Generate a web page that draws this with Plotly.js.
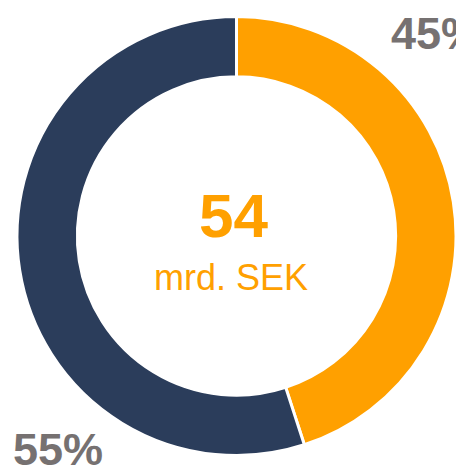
<!DOCTYPE html>
<html>
<head>
<meta charset="utf-8">
<script src="https://cdn.plot.ly/plotly-3.0.1.min.js"></script>
<style>html,body{margin:0;padding:0;background:#fff;}#chart{width:456px;height:472px;}</style>
</head>
<body>
<div id="chart"></div>
<script>
var categories = ["Orange", "Navy"];
var shares = [45, 55];
var shareLabels = ["45%", "55%"];
var centerValue = "54";
var centerUnit = "mrd. SEK";
var colors = ["#FFA000", "#2B3D5B"];

var trace = {
  type: "pie",
  labels: categories,
  values: shares,
  hole: 0.725,
  sort: false,
  direction: "clockwise",
  rotation: 0,
  textinfo: "none",
  hoverinfo: "none",
  marker: {colors: colors, line: {color: "#ffffff", width: 3}},
  domain: {x: [17/456, 1], y: [16/472, 456/472]},
  showlegend: false
};

var layout = {
  width: 456, height: 472,
  margin: {l: 0, r: 0, t: 0, b: 0},
  paper_bgcolor: "#ffffff",
  font: {family: "Liberation Sans, Arial, sans-serif"},
  annotations: [
    {text: "<b>" + centerValue + "</b>", x: 233/456, y: 1 - 215/472, xref: "paper", yref: "paper",
     xanchor: "center", yanchor: "middle", showarrow: false,
     font: {size: 62, color: colors[0], family: "Liberation Sans, Arial, sans-serif"}},
    {text: centerUnit, x: 231/456, y: 1 - 277/472, xref: "paper", yref: "paper",
     xanchor: "center", yanchor: "middle", showarrow: false,
     font: {size: 36, color: colors[0], family: "Liberation Sans, Arial, sans-serif"}},
    {text: "<b>" + shareLabels[0] + "</b>", x: 389/456, y: 1 - 33/472, xref: "paper", yref: "paper",
     xanchor: "left", yanchor: "middle", showarrow: false,
     font: {size: 45, color: "#767171", family: "Liberation Sans, Arial, sans-serif"}},
    {text: "<b>" + shareLabels[1] + "</b>", x: 11/456, y: 1 - 449/472, xref: "paper", yref: "paper",
     xanchor: "left", yanchor: "middle", showarrow: false,
     font: {size: 45, color: "#767171", family: "Liberation Sans, Arial, sans-serif"}}
  ]
};

Plotly.newPlot("chart", [trace], layout, {displayModeBar: false, staticPlot: true});
</script>
</body>
</html>
